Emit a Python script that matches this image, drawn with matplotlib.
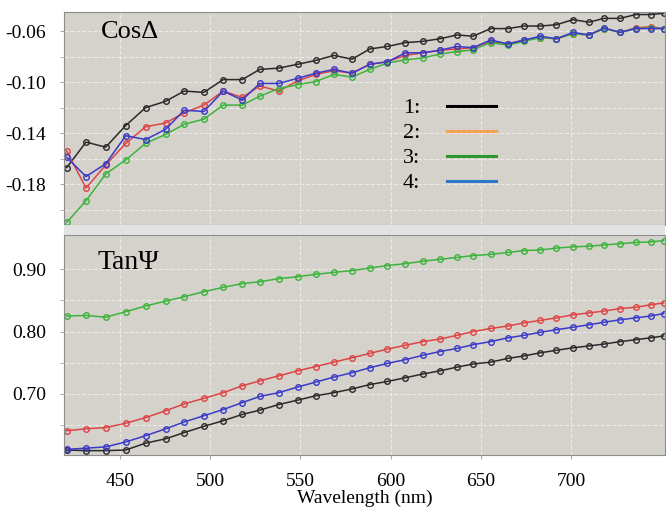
import matplotlib.pyplot as plt
from matplotlib.lines import Line2D
from matplotlib.patches import Rectangle

wavelength = [420.5, 431.2, 442.1, 453.2, 464.2, 475.3, 485.6, 496.5, 507.2, 517.7,
              527.5, 538.0, 548.4, 558.5, 568.5, 578.6, 588.4, 598.2, 608.2, 617.9,
              627.2, 636.8, 645.6, 655.4, 665.0, 673.9, 683.0, 691.8, 701.0, 709.9,
              718.2, 727.2, 735.7, 744.0, 751.2]

cos_1 = [-0.167, -0.147, -0.151, -0.134, -0.120, -0.115, -0.107, -0.108, -0.098, -0.098,
         -0.090, -0.089, -0.086, -0.083, -0.079, -0.082, -0.074, -0.072, -0.069, -0.068,
         -0.066, -0.063, -0.064, -0.058, -0.058, -0.056, -0.056, -0.055, -0.051, -0.053,
         -0.050, -0.050, -0.047, -0.047, -0.046]
cos_2 = [-0.154, -0.183, -0.165, -0.148, -0.135, -0.132, -0.124, -0.118, -0.107, -0.112,
         -0.103, -0.107, -0.099, -0.094, -0.091, -0.093, -0.086, -0.084, -0.079, -0.077,
         -0.075, -0.074, -0.073, -0.068, -0.070, -0.067, -0.065, -0.066, -0.062, -0.063,
         -0.058, -0.061, -0.0575, -0.0565, -0.058]
cos_3 = [-0.210, -0.193, -0.172, -0.161, -0.148, -0.141, -0.133, -0.129, -0.118, -0.118,
         -0.111, -0.105, -0.102, -0.0995, -0.094, -0.096, -0.090, -0.085, -0.0825, -0.081,
         -0.078, -0.076, -0.0747, -0.069, -0.071, -0.068, -0.065, -0.066, -0.062, -0.063,
         -0.058, -0.061, -0.058, -0.0575, -0.058]
cos_4 = [-0.159, -0.174, -0.164, -0.142, -0.145, -0.137, -0.122, -0.123, -0.107, -0.114,
         -0.101, -0.101, -0.097, -0.093, -0.090, -0.093, -0.086, -0.084, -0.077, -0.077,
         -0.075, -0.072, -0.073, -0.067, -0.070, -0.067, -0.064, -0.066, -0.061, -0.063,
         -0.0575, -0.061, -0.058, -0.058, -0.058]

tan_1 = [0.610, 0.609, 0.609, 0.610, 0.621, 0.628, 0.638, 0.648, 0.657, 0.667,
         0.674, 0.683, 0.690, 0.697, 0.702, 0.708, 0.715, 0.720, 0.726, 0.732,
         0.737, 0.743, 0.748, 0.751, 0.757, 0.761, 0.766, 0.770, 0.774, 0.777,
         0.780, 0.784, 0.787, 0.790, 0.793]
tan_2 = [0.641, 0.644, 0.646, 0.653, 0.662, 0.673, 0.684, 0.693, 0.702, 0.713,
         0.721, 0.729, 0.737, 0.744, 0.751, 0.758, 0.765, 0.772, 0.778, 0.784,
         0.788, 0.794, 0.800, 0.805, 0.809, 0.814, 0.818, 0.822, 0.827, 0.830,
         0.833, 0.837, 0.839, 0.843, 0.846]
tan_3 = [0.825, 0.826, 0.823, 0.832, 0.841, 0.849, 0.856, 0.864, 0.871, 0.877,
         0.880, 0.885, 0.888, 0.892, 0.895, 0.898, 0.902, 0.906, 0.909, 0.913,
         0.916, 0.919, 0.922, 0.924, 0.927, 0.930, 0.931, 0.934, 0.936, 0.937,
         0.939, 0.941, 0.943, 0.944, 0.946]
tan_4 = [0.611, 0.613, 0.615, 0.623, 0.633, 0.644, 0.655, 0.665, 0.675, 0.686,
         0.696, 0.702, 0.711, 0.719, 0.727, 0.734, 0.742, 0.749, 0.755, 0.762,
         0.768, 0.773, 0.779, 0.784, 0.790, 0.794, 0.799, 0.803, 0.807, 0.811,
         0.815, 0.819, 0.822, 0.825, 0.829]

cos_ticks = [-0.18, -0.14, -0.10, -0.06]
tan_ticks = [0.70, 0.80, 0.90]
x_ticks = [450, 500, 550, 600, 650, 700]

line_colors = ['#2a2a2a', '#dd4444', '#3cb43c', '#3a3ac8']
legend_colors = ['black', '#f2a252', '#2e962e', '#2c78c8']
bg = '#d5d2cc'

plt.rcParams['font.family'] = ['Liberation Serif', 'DejaVu Serif']

fig = plt.figure(figsize=(6.66, 5.15), dpi=100)
ax1 = fig.add_axes([0.0961, 0.5631, 0.9024, 0.4136])
ax2 = fig.add_axes([0.0961, 0.1165, 0.9024, 0.4272], sharex=ax1)

# light strip between the two panels
fig.patches.append(Rectangle((0.0961, 0.5436), 0.9024, 0.0195, transform=fig.transFigure,
                             facecolor='#e2e2e2', edgecolor='none', zorder=0))

for ax, series in ((ax1, (cos_1, cos_2, cos_3, cos_4)), (ax2, (tan_1, tan_2, tan_3, tan_4))):
    ax.set_facecolor(bg)
    for y, c in zip(series, line_colors):
        ax.plot(wavelength, y, color=c, lw=1.1, marker='o', ms=4, mfc='none', mew=1.0)
    for s in ax.spines.values():
        s.set_color('#8c8c8c')
    ax.grid(True, which='both', color='white', linestyle='--', lw=0.8, alpha=0.55)
    ax.tick_params(which='both', length=3, color='#aaaaaa', labelsize=14, pad=10)

ax1.set_xlim(419, 752)
ax1.set_ylim(-0.212, -0.045)
ax1.set_yticks(cos_ticks)
ax1.set_yticklabels(['%.2f' % v for v in cos_ticks])
ax1.set_yticks([-0.20, -0.16, -0.12, -0.08], minor=True)
ax1.tick_params(axis='x', which='both', labelbottom=False, length=0)
ax1.text(0.062, 0.905, 'Cos\u0394', transform=ax1.transAxes, fontsize=19, va='center')

ax2.set_ylim(0.602, 0.955)
ax2.set_yticks(tan_ticks)
ax2.set_yticklabels(['%.2f' % v for v in tan_ticks])
ax2.set_yticks([0.65, 0.75, 0.85], minor=True)
ax2.set_xticks(x_ticks)
ax2.tick_params(axis='x', pad=10)
ax2.set_xlabel('Wavelength (nm)', fontsize=14, labelpad=0)
ax2.text(0.055, 0.875, 'Tan\u03a8', transform=ax2.transAxes, fontsize=20, va='center')

handles = [Line2D([], [], color=c, lw=2.2) for c in legend_colors]
ax1.legend(handles, ['1:', '2:', '3:', '4:'], loc='upper left', bbox_to_anchor=(0.538, 0.67),
           frameon=False, markerfirst=False, fontsize=16, handlelength=2.2,
           handletextpad=1.2, labelspacing=0.2, borderpad=0.2)

fig.savefig('out.png', dpi=100, facecolor='white')
